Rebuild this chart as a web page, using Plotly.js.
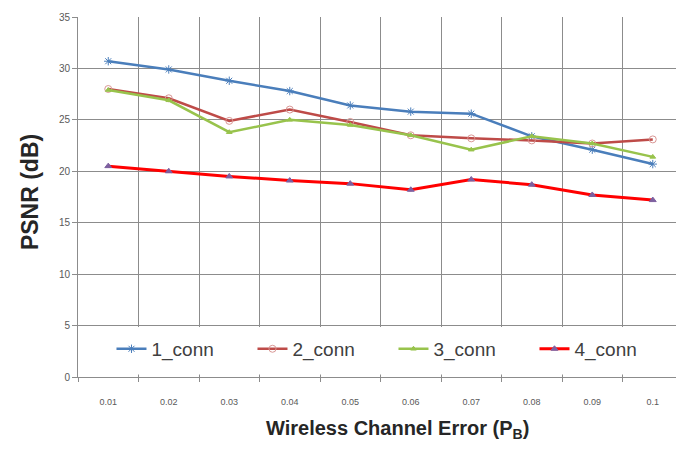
<!DOCTYPE html>
<html><head><meta charset="utf-8">
<script src="https://cdn.plot.ly/plotly-3.0.1.min.js"></script>
<style>html,body{margin:0;padding:0;background:#fff}#chart{width:676px;height:450px}</style>
</head><body><div id="chart"></div>
<script>
const categories = ['0.01','0.02','0.03','0.04','0.05','0.06','0.07','0.08','0.09','0.1'];
const seriesNames = ['1_conn','2_conn','3_conn','4_conn'];
const conn1 = [30.7, 29.9, 28.8, 27.8, 26.4, 25.8, 25.6, 23.4, 22.1, 20.7];
const conn2 = [28.0, 27.1, 24.9, 26.0, 24.8, 23.5, 23.2, 23.0, 22.7, 23.1];
const conn3 = [27.9, 26.9, 23.8, 25.0, 24.5, 23.5, 22.1, 23.4, 22.7, 21.4];
const conn4 = [20.5, 20.0, 19.5, 19.1, 18.8, 18.2, 19.2, 18.7, 17.7, 17.2];
const yTickVals = [0,5,10,15,20,25,30,35];
const xTitle = '<b>Wireless Channel Error (P<sub>B</sub>)</b>';
const yTitle = '<b>PSNR (dB)</b>';

const styles = [
  {line:'#4a7ebb', marker:'#4a7ebb', symbol:'asterisk-open', size:7, width:2.5},
  {line:'#be4b48', marker:'#d99795', symbol:'circle-open', size:7, width:2.5},
  {line:'#98c34c', marker:'#98c34c', symbol:'triangle-up', size:5, width:2.5},
  {line:'#ff0000', marker:'#7d60a0', symbol:'triangle-up', size:6, width:3}
];
const allSeries = [conn1, conn2, conn3, conn4];
const traces = allSeries.map((vals, i) => ({
  x: categories, y: vals, name: seriesNames[i], type: 'scatter', mode: 'lines+markers',
  line: {color: styles[i].line, width: styles[i].width},
  marker: {color: styles[i].marker, symbol: styles[i].symbol, size: styles[i].size,
           line: {color: styles[i].marker, width: 1}}
}));

const layout = {
  width: 676, height: 450,
  margin: {l: 78, r: 0, t: 17, b: 73},
  paper_bgcolor: '#fff', plot_bgcolor: '#fff',
  font: {family: 'Liberation Sans, Arial, sans-serif', color: '#595959'},
  showlegend: true,
  legend: {orientation: 'h', x: 0.056, y: 0.078, xanchor: 'left', yanchor: 'middle',
           bgcolor: 'rgba(255,255,255,0)', font: {size: 19, color: '#404040'},
           entrywidth: 96, entrywidthmode: 'pixels', itemwidth: 30, tracegroupgap: 0},
  shapes: [{type: 'rect', xref: 'paper', yref: 'paper', x0: 0.004, x1: 1, y0: 0.007, y1: 0.139,
            fillcolor: '#ffffff', line: {width: 0}, layer: 'above'}],
  annotations: [
    {text: xTitle, xref: 'paper', yref: 'paper', x: 0.535, y: -0.147, xanchor: 'center', yanchor: 'middle',
     showarrow: false, font: {size: 20, color: '#262626', family: 'Liberation Sans, Arial, sans-serif'}},
    {text: yTitle, xref: 'paper', yref: 'paper', x: -0.080, y: 0.514, xanchor: 'center', yanchor: 'middle',
     textangle: -90, showarrow: false, font: {size: 23, color: '#262626', family: 'Liberation Sans, Arial, sans-serif'}}
  ],
  xaxis: {
    type: 'category', range: [-0.5, 9.384], tickson: 'boundaries',
    showgrid: true, gridcolor: '#8c8c8c', gridwidth: 1,
    showline: true, linecolor: '#8c8c8c', linewidth: 1,
    ticks: 'outside', ticklen: 4, tickcolor: '#8c8c8c', ticklabelstandoff: 16,
    tickfont: {size: 9, color: '#595959'},
    fixedrange: true
  },
  yaxis: {
    range: [0, 35], tickvals: yTickVals, showgrid: true, gridcolor: '#8c8c8c', gridwidth: 1,
    showline: true, linecolor: '#8c8c8c', linewidth: 1, zeroline: false,
    ticks: 'outside', ticklen: 5, tickcolor: '#8c8c8c',
    tickfont: {size: 10, color: '#595959'},
    fixedrange: true
  }
};
Plotly.newPlot('chart', traces, layout, {displayModeBar: false, staticPlot: true});
</script>
</body></html>
